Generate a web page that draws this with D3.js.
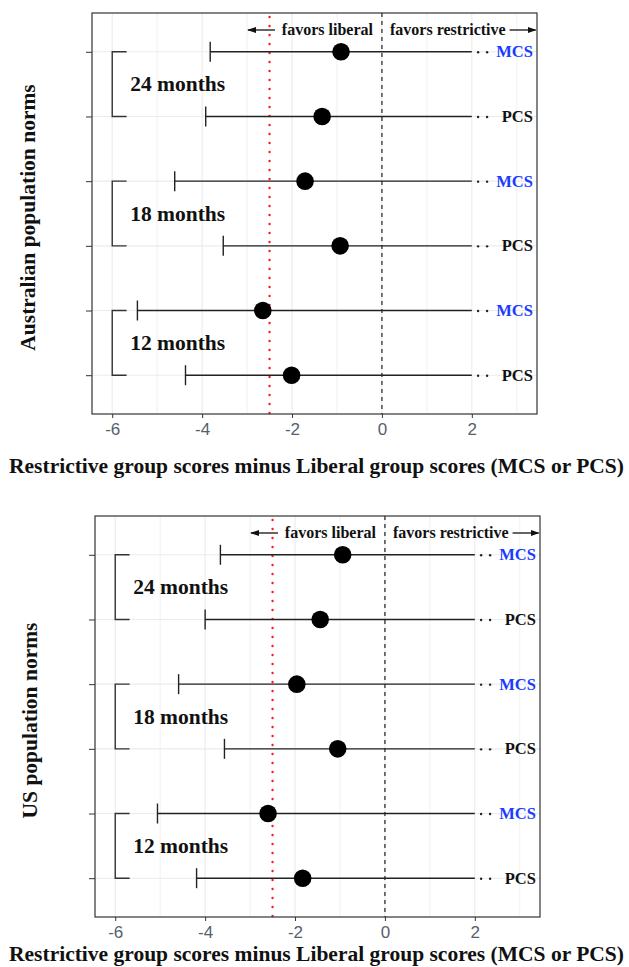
<!DOCTYPE html>
<html><head><meta charset="utf-8">
<script src="https://cdn.jsdelivr.net/npm/d3@7"></script>
<style>body{margin:0;background:#fff}svg{display:block}</style>
</head><body>
<script>
// ---- data ----
const groups = ["24 months", "18 months", "12 months"];
const rowLabels = ["MCS", "PCS", "MCS", "PCS", "MCS", "PCS"];
const ausEst   = [-0.91, -1.33, -1.71, -0.93, -2.65, -2.01];
const ausLower = [-3.82, -3.92, -4.61, -3.53, -5.44, -4.37];
const usEst    = [-0.94, -1.44, -1.96, -1.05, -2.60, -1.83];
const usLower  = [-3.66, -4.00, -4.59, -3.57, -5.06, -4.19];
const upperShown = [2, 2, 2, 2, 2, 2];
const xTicks = [-6, -4, -2, 0, 2];
const gridTicks = [-6, -5, -4, -3, -2, -1, 0, 1, 2, 3];
const mcid = -2.5;
const panelTitles = ["Australian population norms", "US population norms"];
const xTitle = "Restrictive group scores minus Liberal group scores (MCS or PCS)";

const W = 629, H = 967;
const serif = "'Liberation Serif','Times New Roman',serif";
const sans = "'Liberation Sans',Arial,sans-serif";
const svg = d3.select("body").append("svg").attr("width", W).attr("height", H);
const defs = svg.append("defs");
defs.append("marker").attr("id", "ah").attr("viewBox", "0 0 10 10").attr("refX", 9).attr("refY", 5)
  .attr("markerWidth", 9).attr("markerHeight", 9).attr("markerUnits", "userSpaceOnUse").attr("orient", "auto")
  .append("path").attr("d", "M0,1.5 L10,5 L0,8.5 Z").attr("fill", "#111");

function panel(cfg) {
  const {left, right, top, bottom, est, lower, title, titleX, xTitleY} = cfg;
  const g = svg.append("g");
  const x = d3.scaleLinear().domain([-6.45, 3.45]).range([left, right]);
  const y = d3.scalePoint().domain(d3.range(rowLabels.length)).range([top, bottom]).padding(0.6);

  // grid
  g.selectAll(".vg").data(gridTicks).join("line")
    .attr("x1", d => x(d)).attr("x2", d => x(d)).attr("y1", top).attr("y2", bottom)
    .attr("stroke", "#ebebeb").attr("stroke-width", d => d % 2 === 0 ? 1.1 : 0.7);
  g.selectAll(".hg").data(d3.range(rowLabels.length)).join("line")
    .attr("x1", left).attr("x2", right).attr("y1", d => y(d)).attr("y2", d => y(d))
    .attr("stroke", "#ebebeb").attr("stroke-width", 1.1);

  // reference lines
  g.append("line").attr("x1", x(0)).attr("x2", x(0)).attr("y1", top).attr("y2", bottom)
    .attr("stroke", "#222").attr("stroke-width", 1.2).attr("stroke-dasharray", "4,4");
  g.append("line").attr("x1", x(mcid)).attr("x2", x(mcid)).attr("y1", top + 4).attr("y2", bottom)
    .attr("stroke", "#ff1a1a").attr("stroke-width", 2.4).attr("stroke-linecap", "round").attr("stroke-dasharray", "0.1,8.9");

  // brackets
  groups.forEach((lab, i) => {
    const y1 = y(2 * i), y2 = y(2 * i + 1);
    g.append("path").attr("d", `M${x(-5.68)},${y1}H${x(-6)}V${y2}H${x(-5.68)}`)
      .attr("fill", "none").attr("stroke", "#333").attr("stroke-width", 1.4);
    g.append("text").attr("x", x(-5.6)).attr("y", (y1 + y2) / 2 + 7)
      .attr("font-family", serif).attr("font-weight", "bold").attr("font-size", 21.5).attr("fill", "#111").text(lab);
  });

  // error bars
  const rows = d3.range(rowLabels.length);
  g.selectAll(".eb").data(rows).join("line")
    .attr("x1", d => x(lower[d])).attr("x2", d => x(upperShown[d])).attr("y1", d => y(d)).attr("y2", d => y(d))
    .attr("stroke", "#222").attr("stroke-width", 1.4);
  g.selectAll(".cap").data(rows).join("line")
    .attr("x1", d => x(lower[d])).attr("x2", d => x(lower[d])).attr("y1", d => y(d) - 10).attr("y2", d => y(d) + 10)
    .attr("stroke", "#222").attr("stroke-width", 1.4);
  g.selectAll(".pt").data(rows).join("circle")
    .attr("cx", d => x(est[d])).attr("cy", d => y(d)).attr("r", 8.8).attr("fill", "#000");
  // truncation dots
  rows.forEach(d => {
    [2.14, 2.34].forEach(v => g.append("circle").attr("cx", x(v)).attr("cy", y(d) + 0.5).attr("r", 1.2).attr("fill", "#222"));
  });
  g.selectAll(".rl").data(rows).join("text")
    .attr("x", x(3.36)).attr("y", d => y(d) + 5.5).attr("text-anchor", "end")
    .attr("font-family", serif).attr("font-weight", "bold").attr("font-size", 16.5)
    .attr("fill", d => rowLabels[d] === "MCS" ? "#1a3cff" : "#111").text(d => rowLabels[d]);

  // annotations
  const ay = top + 22;
  g.append("text").attr("x", x(-0.2)).attr("y", ay).attr("text-anchor", "end")
    .attr("font-family", serif).attr("font-weight", "bold").attr("font-size", 16).attr("fill", "#111").text("favors liberal");
  g.append("text").attr("x", x(0.18)).attr("y", ay).attr("text-anchor", "start")
    .attr("font-family", serif).attr("font-weight", "bold").attr("font-size", 16).attr("fill", "#111").text("favors restrictive");
  g.append("line").attr("x1", x(-2.38)).attr("x2", x(-2.98)).attr("y1", ay - 5).attr("y2", ay - 5)
    .attr("stroke", "#111").attr("stroke-width", 1.3).attr("marker-end", "url(#ah)");
  g.append("line").attr("x1", x(2.84)).attr("x2", x(3.42)).attr("y1", ay - 5).attr("y2", ay - 5)
    .attr("stroke", "#111").attr("stroke-width", 1.3).attr("marker-end", "url(#ah)");

  // border
  g.append("rect").attr("x", left).attr("y", top).attr("width", right - left).attr("height", bottom - top)
    .attr("fill", "none").attr("stroke", "#333").attr("stroke-width", 1.2);

  // axes
  const xa = g.append("g").attr("transform", `translate(0,${bottom})`)
    .call(d3.axisBottom(x).tickValues(xTicks).tickSize(4).tickPadding(5).tickFormat(d => String(d)));
  xa.select(".domain").remove();
  xa.selectAll("line").attr("stroke", "#333");
  xa.selectAll("text").attr("font-family", sans).attr("font-size", 17).attr("fill", "#56606e");
  const ya = g.append("g").attr("transform", `translate(${left},0)`)
    .call(d3.axisLeft(y).tickSize(6).tickFormat(""));
  ya.select(".domain").remove();
  ya.selectAll("line").attr("stroke", "#333");

  // titles
  g.append("text").attr("transform", `translate(${titleX},${(top + bottom) / 2 + 4}) rotate(-90)`)
    .attr("text-anchor", "middle").attr("font-family", serif).attr("font-weight", "bold").attr("font-size", 21.5)
    .attr("fill", "#111").text(title);
  g.append("text").attr("x", W / 2 + 2).attr("y", xTitleY).attr("text-anchor", "middle")
    .attr("font-family", serif).attr("font-weight", "bold").attr("font-size", 21.5).attr("fill", "#111").text(xTitle);
}

panel({left: 92, right: 537, top: 13, bottom: 414, est: ausEst, lower: ausLower, title: panelTitles[0], titleX: 35, xTitleY: 473});
panel({left: 95, right: 540, top: 516, bottom: 917, est: usEst, lower: usLower, title: panelTitles[1], titleX: 37, xTitleY: 961});
</script>
</body></html>
